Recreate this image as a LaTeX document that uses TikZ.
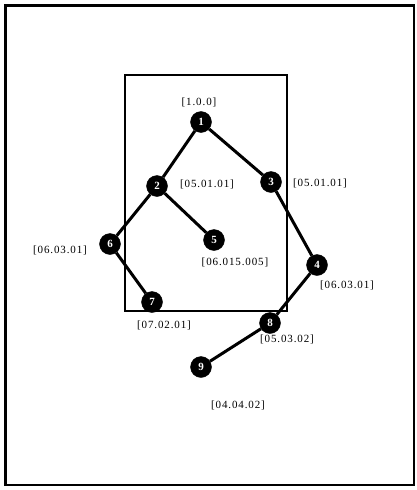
\documentclass[tikz,border=0pt]{standalone}
\usepackage{fontspec}
\setmainfont{Liberation Serif}
\newfontfamily\lblfont[LetterSpace=8]{Liberation Serif}
\begin{document}
\begin{tikzpicture}[x=1pt,y=-1pt,
  vtx/.style={circle,fill=black,draw=black,minimum size=21pt,inner sep=0pt,text=white,font=\bfseries\fontsize{11}{11}\selectfont},
  lbl/.style={inner sep=0pt,font=\lblfont\fontsize{11}{11}\selectfont},
  edge/.style={line width=3pt}]
\useasboundingbox (0,0) rectangle (416,490);
\draw[line width=2.4pt] (5.5,5.5) rectangle (414,485);
\draw[line width=1.4pt] (125,75) rectangle (287,311);
\node[vtx] (n1) at (201,122) {1};
\node[vtx] (n2) at (157,186) {2};
\node[vtx] (n3) at (271,182) {3};
\node[vtx] (n5) at (214,240) {5};
\node[vtx] (n6) at (110,244) {6};
\node[vtx] (n4) at (317,265) {4};
\node[vtx] (n7) at (152,302) {7};
\node[vtx] (n8) at (270,323) {8};
\node[vtx] (n9) at (201,367) {9};
\draw[edge] (n1) -- (n2);
\draw[edge] (n1) -- (n3);
\draw[edge] (n2) -- (n6);
\draw[edge] (n2) -- (n5);
\draw[edge] (n3) -- (n4);
\draw[edge] (n6) -- (n7);
\draw[edge] (n4) -- (n8);
\draw[edge] (n8) -- (n9);
\node[lbl] (l1) at (199,102) {[1.0.0]};
\node[lbl] (l2) at (207,184) {[05.01.01]};
\node[lbl] (l3) at (320,183) {[05.01.01]};
\node[lbl] (l6) at (60,250) {[06.03.01]};
\node[lbl] (l5) at (235,262) {[06.015.005]};
\node[lbl] (l4) at (347,285) {[06.03.01]};
\node[lbl] (l7) at (164,325) {[07.02.01]};
\node[lbl] (l8) at (287,339) {[05.03.02]};
\node[lbl] (l9) at (238,405) {[04.04.02]};
\end{tikzpicture}
\end{document}
